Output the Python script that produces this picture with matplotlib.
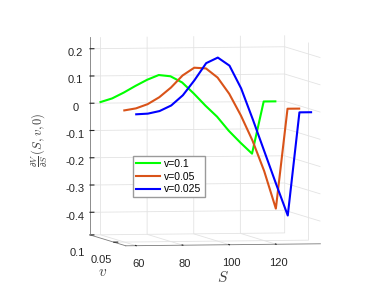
import numpy as np
import matplotlib
matplotlib.use("Agg")
import matplotlib.pyplot as plt
from matplotlib.transforms import ScaledTranslation
from mpl_toolkits.mplot3d import proj3d

plt.rcParams["font.family"] = ["Liberation Sans", "DejaVu Sans"]
plt.rcParams["mathtext.fontset"] = "cm"
plt.rcParams["axes.unicode_minus"] = False

# grid of underlying prices
S = [60, 65, 70, 75, 80, 85, 90, 95, 100, 105, 110, 115, 120, 125, 130, 135]
vols = [0.1, 0.05, 0.025]
labels = ["v=0.1", "v=0.05", "v=0.025"]
colors = ["#00ff00", "#d95319", "#0000ff"]

delta_v010 = [0.004, 0.017, 0.038, 0.062, 0.084, 0.101, 0.096, 0.073,
              0.032, -0.013, -0.054, -0.106, -0.150, -0.191, 0.0, 0.0]
delta_v005 = [0.0, 0.007, 0.022, 0.047, 0.082, 0.126, 0.154, 0.151,
              0.117, 0.057, -0.023, -0.116, -0.228, -0.366, 0.0, 0.0]
delta_v0025 = [-0.001, 0.001, 0.010, 0.030, 0.067, 0.122, 0.184, 0.204,
               0.174, 0.090, -0.024, -0.143, -0.262, -0.378, 0.0, 0.0]
deltas = [delta_v010, delta_v005, delta_v0025]

S_LIM = (55.5, 139.0)
V_LIM = (0.025, 0.1)
Z_LIM = (-0.483, 0.242)

W, H = 370, 294
GRID_C = "#e3e3e3"
AX_C = "#262626"
LBL_C = "#404040"

fig = plt.figure(figsize=(W / 100, H / 100), dpi=100)
ax = fig.add_axes([0.2, 0.15, 0.6, 0.6 * W / H], projection="3d")
ax.set_proj_type("ortho")
ax.set_box_aspect((1, 1, 1))
ax.view_init(elev=3.2, azim=-100.4)

for v, d, c, lab in zip(vols, deltas, colors, labels):
    ax.plot(S, [v] * len(S), d, color=c, lw=1.5, label=lab)

ax.set_xlim(*S_LIM)
ax.set_ylim(*V_LIM)
ax.set_zlim(*Z_LIM)
ax.set_xticks([60, 80, 100, 120])
ax.set_yticks([0.05, 0.1])
ax.set_yticklabels(["0.05", "0.1"])
ax.set_zticks([-0.4, -0.3, -0.2, -0.1, 0, 0.1, 0.2])
ax.set_zticklabels(["-0.4", "-0.3", "-0.2", "-0.1", "0", "0.1", "0.2"])

for axis in (ax.xaxis, ax.yaxis, ax.zaxis):
    axis.set_pane_color((1, 1, 1, 1))
    axis.pane.set_edgecolor((1, 1, 1, 0))
    axis._axinfo["grid"].update(color=GRID_C, linewidth=0.6)
    axis._axinfo["tick"].update(inward_factor=0.0, outward_factor=0.25)
    axis._axinfo["axisline"].update(color="#7a7a7a", linewidth=0.6)
    axis.line.set_color("#7a7a7a")
    axis.line.set_linewidth(0.6)
ax.tick_params(labelsize=8, colors=AX_C, pad=0, width=0.5)

# fit the projected box onto the target pixel frame
def corner_px(x, y, z):
    xs, ys, _ = proj3d.proj_transform(x, y, z, ax.get_proj())
    return np.array(ax.transData.transform((xs, ys)))

target_a = np.array([90.0, H - 37.3])   # (Smin, vmax, zmax)
target_b = np.array([322.0, H - 242.0])  # (Smax, vmin, zmin)
for _ in range(3):
    fig.canvas.draw()
    pa = corner_px(S_LIM[0], V_LIM[1], Z_LIM[1])
    pb = corner_px(S_LIM[1], V_LIM[0], Z_LIM[0])
    bb = ax.get_position().transformed(fig.transFigure)
    k = np.linalg.norm(target_b - target_a) / np.linalg.norm(pb - pa)
    side = bb.width * k
    rel = (pa - np.array([bb.x0, bb.y0])) / bb.width
    origin = target_a - rel * side
    ax.set_position([origin[0] / W, origin[1] / H, side / W, side / H])

# nudge v tick labels a few px to the right, like the MATLAB layout
fig.canvas.draw()
for lab in ax.yaxis.get_ticklabels():
    lab.set_transform(lab.get_transform()
                      + ScaledTranslation(5 / 100, 0, fig.dpi_scale_trans))

# axis labels (MATLAB latex interpreter look)
fig.text(223 / W, 1 - 277 / H, "$S$", fontsize=11, color=LBL_C,
         ha="center", va="center")
fig.text(103 / W, 1 - 272 / H, "$v$", fontsize=11, color=LBL_C,
         ha="center", va="center")
fig.text(40 / W, 1 - 140 / H, r"$\frac{\partial V}{\partial S}\,(S,v,0)$",
         fontsize=9, color=LBL_C, ha="center", va="center", rotation=90)

ax.legend(loc="upper left", bbox_to_anchor=(133 / W, 1 - 156 / H),
          bbox_transform=fig.transFigure, fontsize=7.5, frameon=True,
          fancybox=False, edgecolor="#9a9a9a", framealpha=1,
          handlelength=2.3, handletextpad=0.4, borderpad=0.3,
          labelspacing=0.25, borderaxespad=0)

fig.savefig("out.png", dpi=100)
